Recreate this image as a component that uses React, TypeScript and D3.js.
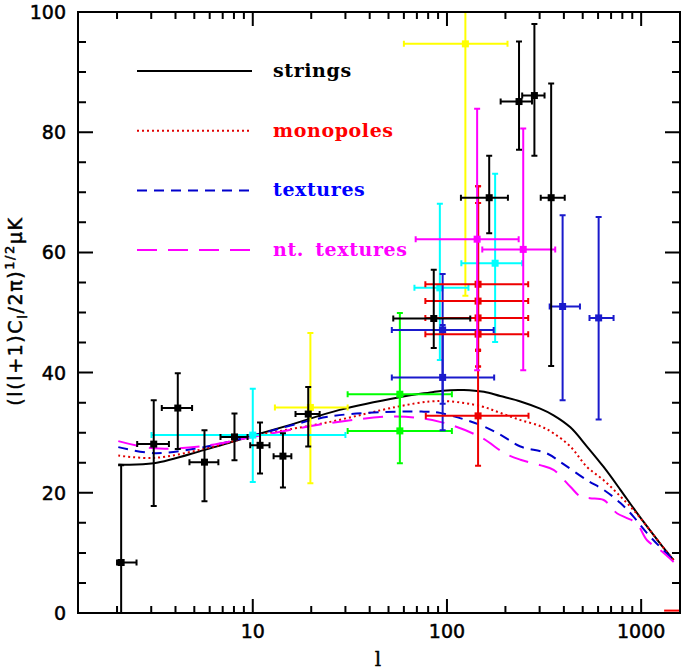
import { useEffect, useRef } from "react"
import * as d3 from "d3"

// error-bar points: l, value, l range, value range
type Pt = { l: number; v: number; l0: number; l1: number; v0: number; v1: number }

const blackPts: Pt[] = [
  { l: 2.1, v: 8.4, l0: 2.0, l1: 2.52, v0: 0, v1: 24.6 },
  { l: 3.09, v: 28.1, l0: 2.54, l1: 3.7, v0: 17.8, v1: 35.4 },
  { l: 4.11, v: 34.1, l0: 3.4, l1: 4.87, v0: 27.3, v1: 39.9 },
  { l: 5.64, v: 25.1, l0: 4.72, l1: 6.65, v0: 18.6, v1: 30.4 },
  { l: 8.05, v: 29.3, l0: 6.82, l1: 9.4, v0: 25.4, v1: 33.2 },
  { l: 10.9, v: 27.9, l0: 9.7, l1: 12.2, v0: 23.2, v1: 31.7 },
  { l: 14.3, v: 26.1, l0: 12.8, l1: 15.8, v0: 20.9, v1: 29.9 },
  { l: 19.3, v: 33.1, l0: 16.6, l1: 22.1, v0: 27.7, v1: 37.6 },
  { l: 85.5, v: 49.0, l0: 52.9, l1: 131.8, v0: 44.1, v1: 57.1 },
  { l: 165, v: 69.1, l0: 118, l1: 206, v0: 63.2, v1: 76.1 },
  { l: 235, v: 85.1, l0: 189, l1: 274, v0: 77.1, v1: 95.1 },
  { l: 282, v: 86.1, l0: 244, l1: 318, v0: 76.1, v1: 98.0 },
  { l: 344, v: 69.1, l0: 304, l1: 404, v0: 41.1, v1: 88.1 },
]

const yellowPts: Pt[] = [
  { l: 19.8, v: 34.2, l0: 13.0, l1: 30.8, v0: 21.6, v1: 46.6 },
  { l: 124.4, v: 94.7, l0: 60, l1: 205, v0: 52.8, v1: 110 },
]

const cyanPts: Pt[] = [
  { l: 10, v: 29.6, l0: 3.01, l1: 30, v0: 21.8, v1: 37.3 },
  { l: 91.9, v: 54.1, l0: 68, l1: 129, v0: 42.1, v1: 68.1 },
  { l: 177, v: 58.2, l0: 118.6, l1: 244, v0: 45.1, v1: 73.1 },
]

const magentaPts: Pt[] = [
  { l: 143, v: 62.2, l0: 69, l1: 234, v0: 40.4, v1: 83.9 },
  { l: 247, v: 60.5, l0: 152, l1: 361, v0: 40.4, v1: 80.6 },
]

const redPts: Pt[] = [
  { l: 144.6, v: 54.7, l0: 77.4, l1: 262, v0: 43.8, v1: 71.0 },
  { l: 144.6, v: 51.9, l0: 77.4, l1: 262, v0: 41.0, v1: 68.2 },
  { l: 144.6, v: 49.1, l0: 77.4, l1: 262, v0: 43.8, v1: 68.2 },
  { l: 144.6, v: 46.4, l0: 77.4, l1: 262, v0: 41.0, v1: 71.0 },
  { l: 144.6, v: 32.8, l0: 77.8, l1: 263, v0: 24.5, v1: 43.6 },
]

const greenPts: Pt[] = [
  { l: 57.2, v: 36.4, l0: 30.8, l1: 106, v0: 30.3, v1: 49.9 },
  { l: 57.2, v: 30.3, l0: 30.8, l1: 106, v0: 24.9, v1: 36.4 },
]

const bluePts: Pt[] = [
  { l: 95, v: 47.1, l0: 52, l1: 174, v0: 34.8, v1: 56.4 },
  { l: 95, v: 39.2, l0: 52, l1: 175, v0: 30.4, v1: 47.9 },
  { l: 394, v: 51.0, l0: 338, l1: 484, v0: 35.4, v1: 66.2 },
  { l: 604, v: 49.1, l0: 542, l1: 721, v0: 32.2, v1: 65.9 },
]

// model curves [l, value]
const strings: [number, number][] = [
  [2.03, 24.7], [3.09, 24.9], [5.6, 27.1], [7.7, 28.4], [10, 29.5], [15.6, 31.3], [28, 33.8],
  [57, 35.9], [82, 36.7], [95, 37.0], [122, 37.1], [155, 36.8], [188, 36.1], [239, 35.2],
  [302, 34.0], [354, 32.9], [432, 30.9], [526, 27.7], [641, 24.3], [782, 20.5], [915, 17.4],
  [1072, 14.4], [1250, 11.6], [1470, 8.8],
]
const monopoles: [number, number][] = [
  [2.03, 26.2], [3.09, 25.8], [5.6, 27.3], [10, 29.4], [25, 31.8], [55, 34.3], [82, 35.2],
  [104, 35.2], [150, 34.4], [188, 33.3], [239, 32.1], [302, 31.1], [354, 29.9], [432, 27.7],
  [526, 24.3], [641, 22.1], [782, 19.4], [915, 17.1], [1072, 14.4], [1250, 11.6], [1470, 8.8],
]
const monoTail: [number, number][] = [[1313, 0.4], [1585, 0.4]]
const textures: [number, number][] = [
  [2.03, 27.6], [3.1, 26.6], [5.6, 27.6], [10, 29.5], [25, 32.7], [57, 33.5], [76, 33.5],
  [92, 33.3], [148, 31.3], [190, 29.6], [239, 27.7], [325, 26.6], [393, 24.9], [526, 22.1],
  [641, 20.5], [782, 18.3], [915, 16.0], [1072, 13.3], [1250, 11.0], [1470, 8.8],
]
const ntTextures: [number, number][] = [
  [2.03, 28.6], [3.1, 27.4], [5.6, 27.8], [10, 29.3], [25, 31.6], [55, 32.7], [92, 31.8],
  [148, 29.3], [200, 26.5], [239, 25.5], [302, 24.6], [354, 23.8], [432, 21.0], [486, 19.4],
  [545, 19.1], [641, 18.8], [750, 16.6], [845, 15.8], [950, 14.9], [1072, 12.1], [1250, 10.5],
  [1470, 8.5],
]

const xMajor = [10, 100, 1000]
const xMinor = [2, 3, 4, 5, 6, 7, 8, 9, 20, 30, 40, 50, 60, 70, 80, 90, 200, 300, 400, 500, 600, 700, 800, 900]
const yMajor = [0, 20, 40, 60, 80, 100]
const yMinor = d3.range(0, 101, 5).filter((d) => d % 20 !== 0)

const legend = [
  { label: "strings", line: "#000", text: "#000", dash: "none" },
  { label: "monopoles", line: "#e00000", text: "#ff0000", dash: "2,3" },
  { label: "textures", line: "#0000cc", text: "#0000ff", dash: "10,7" },
  { label: "nt. textures", line: "#ff00ff", text: "#ff00ff", dash: "20,11" },
]

export default function App() {
  const svgRef = useRef<SVGSVGElement | null>(null)

  useEffect(() => {
    if (!svgRef.current) return
    const svg = d3.select(svgRef.current)
    svg.selectAll("*").remove()

    const left = 78, right = 680, top = 12, bottom = 613
    const x = d3.scaleLog().domain([10 ** 0.1, 10 ** 3.2]).range([left, right])
    const y = d3.scaleLinear().domain([0, 100]).range([bottom, top])

    svg.append("defs").append("clipPath").attr("id", "plot")
      .append("rect").attr("x", left).attr("y", top).attr("width", right - left).attr("height", bottom - top)

    const plot = svg.append("g").attr("clip-path", "url(#plot)")

    // curves
    const line = d3.line<[number, number]>().x((d) => x(d[0])).y((d) => y(d[1])).curve(d3.curveCatmullRom.alpha(0.5))
    const curves: [[number, number][], string, string][] = [
      [strings, "#000", "none"],
      [monopoles, "#e00000", "2,3"],
      [textures, "#0000cc", "10,7"],
      [ntTextures, "#ff00ff", "20,11"],
    ]
    curves.forEach(([data, color, dash]) => {
      plot.append("path").attr("d", line(data)).attr("fill", "none").attr("stroke", color)
        .attr("stroke-width", 2).attr("stroke-dasharray", dash)
    })
    plot.append("path").attr("d", d3.line<[number, number]>().x((d) => x(d[0])).y((d) => y(d[1]))(monoTail))
      .attr("stroke", "#ff0000").attr("stroke-width", 2)

    // error bars
    const cap = 3
    const sets: [Pt[], string][] = [
      [yellowPts, "#ffff00"],
      [greenPts, "#00ff00"],
      [cyanPts, "#00ffff"],
      [bluePts, "#1a1acc"],
      [redPts, "#ee0000"],
      [magentaPts, "#ff00ff"],
      [blackPts, "#000"],
    ]
    sets.forEach(([pts, color]) => {
      const g = plot.append("g").attr("stroke", color).attr("fill", color).attr("stroke-width", 2)
      pts.forEach((p) => {
        const px = x(p.l), py = y(p.v)
        const xa = x(p.l0), xb = x(p.l1), ya = y(p.v0), yb = y(p.v1)
        const path = d3.path()
        path.moveTo(xa, py); path.lineTo(xb, py)
        path.moveTo(xa, py - cap); path.lineTo(xa, py + cap)
        path.moveTo(xb, py - cap); path.lineTo(xb, py + cap)
        path.moveTo(px, ya); path.lineTo(px, yb)
        if (p.v0 > 0) { path.moveTo(px - cap, ya); path.lineTo(px + cap, ya) }
        if (p.v1 < 100) { path.moveTo(px - cap, yb); path.lineTo(px + cap, yb) }
        g.append("path").attr("d", path.toString()).attr("fill", "none")
        g.append("rect").attr("x", px - 3.5).attr("y", py - 3.5).attr("width", 7).attr("height", 7).attr("stroke", "none")
      })
    })

    // frame and ticks
    const axes = svg.append("g").attr("stroke", "#000").attr("stroke-width", 2)
    axes.append("rect").attr("x", left).attr("y", top).attr("width", right - left).attr("height", bottom - top).attr("fill", "none")
    const ticks = d3.path()
    xMajor.forEach((v) => { const px = x(v); ticks.moveTo(px, bottom); ticks.lineTo(px, bottom - 14); ticks.moveTo(px, top); ticks.lineTo(px, top + 14) })
    xMinor.forEach((v) => { const px = x(v); ticks.moveTo(px, bottom); ticks.lineTo(px, bottom - 7); ticks.moveTo(px, top); ticks.lineTo(px, top + 7) })
    yMajor.forEach((v) => { const py = y(v); ticks.moveTo(left, py); ticks.lineTo(left + 15, py); ticks.moveTo(right, py); ticks.lineTo(right - 15, py) })
    yMinor.forEach((v) => { const py = y(v); ticks.moveTo(left, py); ticks.lineTo(left + 8, py); ticks.moveTo(right, py); ticks.lineTo(right - 8, py) })
    axes.append("path").attr("d", ticks.toString()).attr("fill", "none")

    const tickFont = "'DejaVu Sans', sans-serif"
    svg.append("g").selectAll("text").data(xMajor).enter().append("text")
      .attr("x", (d) => x(d)).attr("y", 638).attr("text-anchor", "middle")
      .attr("font-family", tickFont).attr("font-size", 19).attr("stroke", "#000").attr("stroke-width", 0.5)
      .text((d) => d)
    svg.append("g").selectAll("text").data(yMajor).enter().append("text")
      .attr("x", 66).attr("y", (d) => y(d) + 7).attr("text-anchor", "end")
      .attr("font-family", tickFont).attr("font-size", 19).attr("stroke", "#000").attr("stroke-width", 0.5)
      .text((d) => d)

    // axis titles
    svg.append("text").attr("x", 378).attr("y", 666).attr("text-anchor", "middle")
      .attr("font-family", "'DejaVu Serif', serif").attr("font-size", 20).attr("stroke", "#000").attr("stroke-width", 0.4).text("l")
    const yt = svg.append("text").attr("transform", "translate(22,311) rotate(-90)").attr("text-anchor", "middle")
      .attr("font-family", tickFont).attr("font-size", 19).attr("letter-spacing", 1.6)
      .attr("stroke", "#000").attr("stroke-width", 0.5)
    yt.append("tspan").text("(l(l+1)C")
    yt.append("tspan").attr("font-size", 13).attr("dy", 5).text("l")
    yt.append("tspan").attr("dy", -5).text("/2π)")
    yt.append("tspan").attr("font-size", 13).attr("dy", -8).text("1/2")
    yt.append("tspan").attr("dy", 8).text("μK")

    // legend
    legend.forEach((d, i) => {
      const ly = 71 + i * 59.7
      svg.append("line").attr("x1", 137).attr("x2", 252).attr("y1", ly).attr("y2", ly)
        .attr("stroke", d.line).attr("stroke-width", 2).attr("stroke-dasharray", d.dash)
      svg.append("text").attr("x", 273).attr("y", ly + 6).attr("fill", d.text)
        .attr("font-family", "'DejaVu Serif', serif").attr("font-weight", "bold").attr("font-size", 19)
        .attr("letter-spacing", 0.6).attr("word-spacing", 4)
        .text(d.label)
    })
  }, [])

  return (
    <svg ref={svgRef} width={685} height={671} style={{ position: "absolute", left: 0, top: 0, background: "#fff" }}></svg>
  )
}
